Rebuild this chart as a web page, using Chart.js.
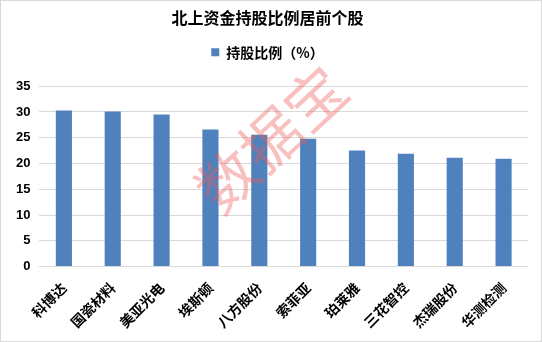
<!DOCTYPE html>
<html>
<head>
<meta charset="utf-8">
<script src="https://cdn.jsdelivr.net/npm/chart.js@4/dist/chart.umd.min.js"></script>
<style>
html,body{margin:0;padding:0;background:#fff;}
#wrap{position:absolute;left:0;top:0;width:540px;height:340px;border:1px solid #d9d9d9;}
canvas{display:block;}
</style>
</head>
<body>
<div id="wrap"><canvas id="c" width="540" height="340"></canvas></div>
<script>
const categories = ['科博达','国瓷材料','美亚光电','埃斯顿','八方股份','索菲亚','珀莱雅','三花智控','杰瑞股份','华测检测'];
const seriesName = '持股比例（%）';
const values = [30.3, 30.1, 29.5, 26.6, 25.6, 24.8, 22.5, 21.9, 21.1, 20.9];
const titleText = '北上资金持股比例居前个股';
const watermarkText = '数据宝';

const cjk = '"Noto Sans CJK SC", sans-serif';

const watermark = {
  id: 'watermark',
  afterDraw(chart) {
    const ctx = chart.ctx;
    ctx.save();
    ctx.translate(270, 138);
    ctx.rotate(-43 * Math.PI / 180);
    ctx.font = '60px ' + cjk;
    ctx.fillStyle = 'rgba(240,90,90,0.38)';
    ctx.textAlign = 'center';
    ctx.textBaseline = 'middle';
    ctx.fillText(watermarkText, 0, 0);
    ctx.restore();
  }
};

const legendMargin = {
  id: 'legendMargin',
  beforeInit(chart) {
    const orig = chart.legend.fit;
    chart.legend.fit = function () {
      orig.call(this);
      this.height += 17;
    };
  }
};

new Chart(document.getElementById('c'), {
  type: 'bar',
  data: {
    labels: categories,
    datasets: [{
      label: seriesName,
      data: values,
      backgroundColor: '#4f81bd',
      borderWidth: 0,
      categoryPercentage: 1,
      barPercentage: 0.33
    }]
  },
  options: {
    responsive: false,
    animation: false,
    devicePixelRatio: 1,
    layout: { padding: { left: 6, right: 13, top: 4, bottom: 5 } },
    plugins: {
      title: {
        display: true,
        text: titleText,
        color: '#000',
        font: { family: cjk, size: 16, weight: 'bold' },
        padding: { top: 3, bottom: 10 }
      },
      legend: {
        display: true,
        labels: {
          color: '#000',
          boxWidth: 8,
          boxHeight: 8,
          font: { family: cjk, size: 14, weight: 'bold' },
          padding: 8
        }
      },
      tooltip: { enabled: false }
    },
    scales: {
      x: {
        grid: { display: false },
        border: { display: false },
        ticks: {
          color: '#000',
          minRotation: 45,
          maxRotation: 45,
          font: { family: cjk, size: 14, weight: 'bold' },
          padding: 5
        }
      },
      y: {
        min: 0,
        max: 35,
        ticks: {
          stepSize: 5,
          color: '#000',
          font: { family: '"Liberation Sans", sans-serif', size: 13, weight: 'bold' },
          padding: 9
        },
        grid: { color: '#d9d9d9', drawTicks: false },
        border: { display: false }
      }
    }
  },
  plugins: [watermark, legendMargin]
});
</script>
</body>
</html>
